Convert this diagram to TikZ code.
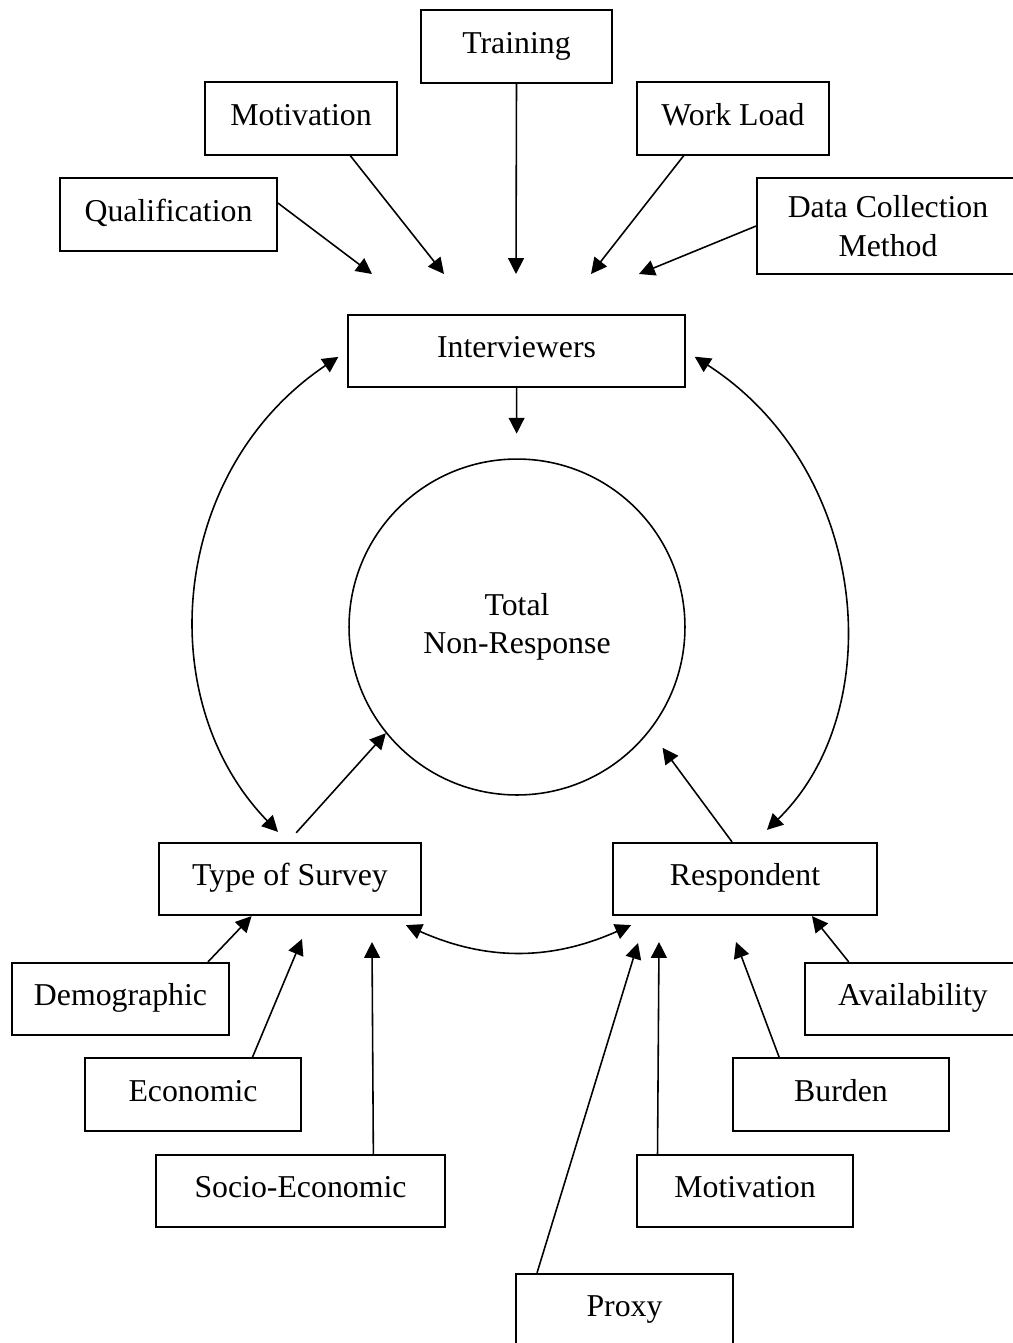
\documentclass[tikz,border=0pt]{standalone}
\usepackage{fontspec}
\setmainfont{Liberation Serif}
\usetikzlibrary{arrows.meta}
\tikzset{box/.style={draw, line width=1pt, align=center, inner sep=0pt, font=\fontsize{18.1}{21.8}\selectfont}}
\tikzset{factor/.style={box, minimum height=1.45cm, text height=12.5pt, text depth=4.7pt}}
\tikzset{link/.style={line width=0.9pt, -{Triangle[length=9pt,width=9pt]}}}
\tikzset{both ways/.style={link, {Triangle[length=9pt,width=9pt]}-{Triangle[length=9pt,width=9pt]}}}

\begin{document}
\begin{tikzpicture}[x=0.02cm,y=-0.02cm]
  \useasboundingbox (0,0) rectangle (1012,1343);
  % one-line boxes
  \foreach \x/\y/\w/\name/\lab in {
    516.5/46.5/191/Training/training,
    301/118.5/192/Motivation/motivI,
    733/118.5/192/Work Load/workload,
    168.5/214.5/217/Qualification/qualif,
    516.5/351/337/Interviewers/interv,
    290/879/262/Type of Survey/survey,
    745/879/264/Respondent/respond,
    120.5/999/217/Demographic/demog,
    193/1094.5/216/Economic/econ,
    300.5/1191/289/Socio-Economic/socio,
    913/999/216/Availability/avail,
    841/1094.5/216/Burden/burden,
    745/1191/216/Motivation/motivR,
    624.5/1310/217/Proxy/proxy%
  } {
    \node[factor, minimum width=\w*0.02cm] (\lab) at (\x, \y) {\name};
  }
  \node[box, minimum width=5.24cm, minimum height=1.92cm] (datacoll) at (888,226) {Data Collection\\Method};
  \node[box, circle, line width=0.9pt, minimum size=6.72cm] (total) at (517,627) {Total\\Non-Response};

  % free arrow ends
  \foreach \x/\y/\lab in {
    372/274/qualtip, 444/274/motivtip, 516/274/traintip,
    591/274/worktip, 639/274/datatip, 302/939/econtip,
    372/942/sociotip, 638/943/proxytip, 659/942/motivRtip,
    736/942/burdentip%
  } {
    \coordinate (\lab) at (\x, \y);
  }

  \foreach \u/\v in {
    qualif.6/qualtip,
    motivI.-37/motivtip,
    training.south/traintip,
    workload.217/worktip,
    datacoll.west/datatip,
    demog.23/survey.224,
    econ.32/econtip,
    socio.27/sociotip,
    proxy.157/proxytip,
    motivR.157/motivRtip,
    burden.149/burdentip,
    avail.150/respond.-29%
  } {
    \draw[link] (\u) -- (\v);
  }

  \draw[link, shorten >=14pt] (interv) -- (total);
  \draw[link, shorten <=7pt] ([xshift=-0.04cm]survey.north) -- (total.219);
  \draw[link, shorten >=12pt] ([xshift=-0.26cm]respond.north) -- (total.322);

  \draw[both ways, shorten <=6pt] (interv.west) .. controls (170,470) and (150,700) .. ([xshift=-0.24cm,yshift=0.2cm]survey.north);
  \draw[both ways, shorten <=6pt] (interv.east) .. controls (870,470) and (890,710) .. ([xshift=0.44cm,yshift=0.24cm]respond.north);
  \draw[both ways] ([xshift=-0.32cm,yshift=-0.18cm]survey.south east) to[bend right=24] ([xshift=0.38cm,yshift=-0.18cm]respond.south west);
\end{tikzpicture}
\end{document}
